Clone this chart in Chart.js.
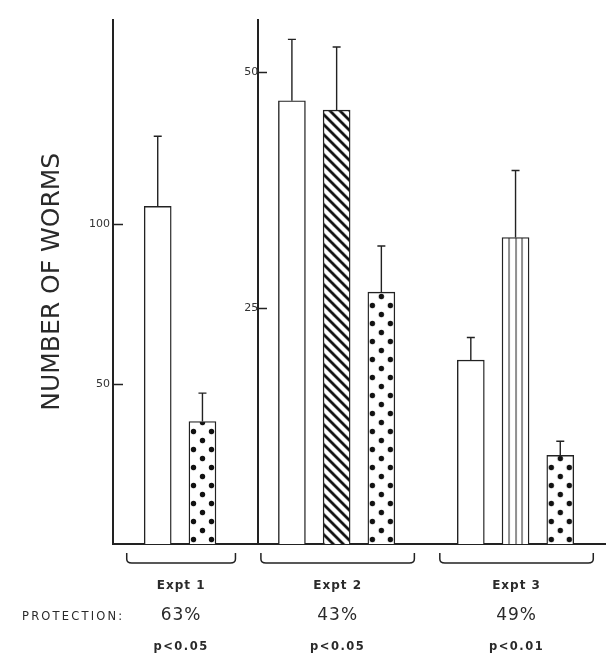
<!DOCTYPE html>
<html>
<head>
<meta charset="utf-8">
<script src="https://cdn.jsdelivr.net/npm/chart.js@4.4.1/dist/chart.umd.min.js"></script>
<style>
  html, body { margin: 0; padding: 0; background: #fff; }
  #worms { display: block; }
</style>
</head>
<body>
<canvas id="worms" width="608" height="659"></canvas>
<script>
// values (means with upward error bars)
const experiments = ['Expt 1', 'Expt 2', 'Expt 3'];
const protection = ['63%', '43%', '49%'];
const pValues = ['p<0.05', 'p<0.05', 'p<0.01'];

const expt1Groups = ['Control', 'Vaccinated'];
const expt1Means = [105.6, 38.3];
const expt1Errors = [21.9, 8.9];

const expt2Groups = ['Control', 'Treated', 'Vaccinated'];
const expt2Means = [47.0, 46.0, 26.7];
const expt2Errors = [6.5, 6.7, 4.9];

const expt3Groups = ['Control', 'Treated', 'Vaccinated'];
const expt3Means = [19.5, 32.5, 9.4];
const expt3Errors = [2.4, 7.1, 1.5];

const leftTicks = [50, 100];
const middleTicks = [25, 50];

// bar fills per experiment
const expt1Fills = ['open', 'dots'];
const expt2Fills = ['open', 'hatch', 'dots'];
const expt3Fills = ['open', 'lines', 'dots'];

const ink = '#222';
const barWidth = 27;

// one slot per bar, with an empty slot between experiments
const slotLabels = [''];
const slotInfo = [null];
const groupSlots = [];

function addExpt(k, names, means, errs, fills, axis) {
    const slots = [];
    names.forEach((name, i) => {
        slots.push(slotLabels.length);
        slotLabels.push(experiments[k] + ' ' + name);
        slotInfo.push({ mean: means[i], err: errs[i], fill: fills[i], axis: axis });
    });
    groupSlots.push(slots);
    slotLabels.push('');
    slotInfo.push(null);
}

addExpt(0, expt1Groups, expt1Means, expt1Errors, expt1Fills, 'y');
addExpt(1, expt2Groups, expt2Means, expt2Errors, expt2Fills, 'y2');
addExpt(2, expt3Groups, expt3Means, expt3Errors, expt3Fills, 'y2');

function column(axis, key) {
    return slotInfo.map(s => (s && s.axis === axis) ? s[key] : null);
}

// pattern tiles
function makeTile(kind) {
    const c = document.createElement('canvas');
    const g = c.getContext('2d');
    if (kind === 'dots') {
        c.width = barWidth; c.height = 18;
        g.fillStyle = '#fff'; g.fillRect(0, 0, c.width, c.height);
        g.fillStyle = '#111';
        [[barWidth / 2, 4.5], [4.5, 13.5], [barWidth - 4.5, 13.5]].forEach(p => {
            g.beginPath(); g.arc(p[0], p[1], 2.7, 0, Math.PI * 2); g.fill();
        });
    } else if (kind === 'hatch') {
        c.width = 10; c.height = 10;
        g.fillStyle = '#fff'; g.fillRect(0, 0, 10, 10);
        g.strokeStyle = '#111'; g.lineWidth = 2.8;
        g.beginPath();
        g.moveTo(-1, -1); g.lineTo(11, 11);
        g.moveTo(-2, 8); g.lineTo(2, 12);
        g.moveTo(8, -2); g.lineTo(12, 2);
        g.stroke();
    } else if (kind === 'lines') {
        c.width = barWidth; c.height = 4;
        g.fillStyle = '#fff'; g.fillRect(0, 0, barWidth, 4);
        g.fillStyle = '#222';
        [0.25, 0.5, 0.75].forEach(f => g.fillRect(Math.round(barWidth * f) - 0.5, 0, 1, 4));
    }
    return c;
}
const tiles = { dots: makeTile('dots'), hatch: makeTile('hatch'), lines: makeTile('lines') };

function fillFor(c) {
    if (c.type !== 'data') return '#fff';
    const info = slotInfo[c.dataIndex];
    if (!info || info.fill === 'open') return '#fff';
    const chart = c.chart;
    const pat = chart.ctx.createPattern(tiles[info.fill], 'repeat');
    const x = chart.scales.x.getPixelForValue(c.dataIndex) - barWidth / 2;
    pat.setTransform(new DOMMatrix([1, 0, 0, 1, x, chart.chartArea.bottom]));
    return pat;
}

const errorBars = {
    id: 'errorBars',
    afterDatasetsDraw(chart) {
        const ctx = chart.ctx;
        ctx.save();
        ctx.strokeStyle = ink;
        ctx.lineWidth = 1.4;
        chart.data.datasets.forEach((ds, i) => {
            const yScale = chart.scales[ds.yAxisID];
            chart.getDatasetMeta(i).data.forEach((bar, j) => {
                if (ds.data[j] == null) return;
                const top = yScale.getPixelForValue(ds.data[j] + ds.errors[j]);
                ctx.beginPath();
                ctx.moveTo(bar.x, bar.y);
                ctx.lineTo(bar.x, top);
                ctx.moveTo(bar.x - 4, top);
                ctx.lineTo(bar.x + 4, top);
                ctx.stroke();
            });
        });
        ctx.restore();
    }
};

const groupNotes = {
    id: 'groupNotes',
    afterDraw(chart) {
        const ctx = chart.ctx;
        const xs = chart.scales.x;
        const base = chart.chartArea.bottom;
        ctx.save();
        ctx.strokeStyle = ink;
        ctx.fillStyle = '#2a2a2a';
        ctx.lineWidth = 1.5;
        ctx.textBaseline = 'middle';
        groupSlots.forEach((slots, k) => {
            const x1 = xs.getPixelForValue(slots[0]) - 31;
            const x2 = xs.getPixelForValue(slots[slots.length - 1]) + 33;
            const y0 = base + 9, y1 = base + 19;
            ctx.beginPath();
            ctx.moveTo(x1, y0);
            ctx.lineTo(x1, y1 - 4);
            ctx.quadraticCurveTo(x1, y1, x1 + 5, y1);
            ctx.lineTo(x2 - 5, y1);
            ctx.quadraticCurveTo(x2, y1, x2, y1 - 4);
            ctx.lineTo(x2, y0);
            ctx.stroke();

            const cx = (x1 + x2) / 2;
            ctx.textAlign = 'center';
            ctx.letterSpacing = '1px';
            ctx.font = 'bold 12px "DejaVu Sans"';
            ctx.fillText(experiments[k], cx, base + 42);
            ctx.letterSpacing = '1px';
            ctx.font = '17px "DejaVu Sans"';
            ctx.fillText(protection[k], cx, base + 72);
            ctx.letterSpacing = '1.5px';
            ctx.font = 'bold 11.5px "DejaVu Sans"';
            ctx.fillText(pValues[k], cx, base + 103);
        });
        ctx.textAlign = 'left';
        ctx.letterSpacing = '2.2px';
        ctx.font = '11.5px "DejaVu Sans"';
        ctx.fillText('PROTECTION:', 22, base + 73);
        ctx.restore();
    }
};

const tickFont = { family: 'DejaVu Sans', size: 11 };

new Chart(document.getElementById('worms'), {
    type: 'bar',
    data: {
        labels: slotLabels,
        datasets: [
            {
                label: experiments[0],
                data: column('y', 'mean'),
                errors: column('y', 'err'),
                yAxisID: 'y'
            },
            {
                label: experiments[1] + ', ' + experiments[2],
                data: column('y2', 'mean'),
                errors: column('y2', 'err'),
                yAxisID: 'y2'
            }
        ]
    },
    options: {
        responsive: false,
        animation: false,
        grouped: false,
        barThickness: barWidth,
        borderWidth: 1.4,
        borderColor: ink,
        backgroundColor: fillFor,
        layout: { padding: { top: 10, left: 33, right: 3, bottom: 115 } },
        plugins: { legend: { display: false }, tooltip: { enabled: false } },
        scales: {
            x: {
                offset: false,
                grid: { display: false, drawTicks: false },
                ticks: { display: false },
                border: { color: ink, width: 2 }
            },
            y: {
                position: 'left',
                min: 0,
                max: 164,
                afterBuildTicks: s => { s.ticks = leftTicks.map(v => ({ value: v })); },
                afterFit: s => { s.width = 80; },
                grid: { drawOnChartArea: false, tickLength: -10, tickColor: ink, tickWidth: 1.5 },
                border: { color: ink, width: 2 },
                ticks: { font: tickFont, color: '#333', padding: 13 },
                title: {
                    display: true,
                    text: 'NUMBER OF WORMS',
                    color: '#2a2a2a',
                    font: { family: 'DejaVu Sans', size: 25 }
                }
            },
            y2: {
                axis: 'y',
                position: { x: 3.25 },
                min: 0,
                max: 55.6,
                afterBuildTicks: s => { s.ticks = middleTicks.map(v => ({ value: v })); },
                grid: { drawOnChartArea: false, tickLength: -10, tickColor: ink, tickWidth: 1.5 },
                border: { color: ink, width: 2 },
                ticks: { font: tickFont, color: '#333', padding: 13 }
            }
        }
    },
    plugins: [errorBars, groupNotes]
});
</script>
</body>
</html>
